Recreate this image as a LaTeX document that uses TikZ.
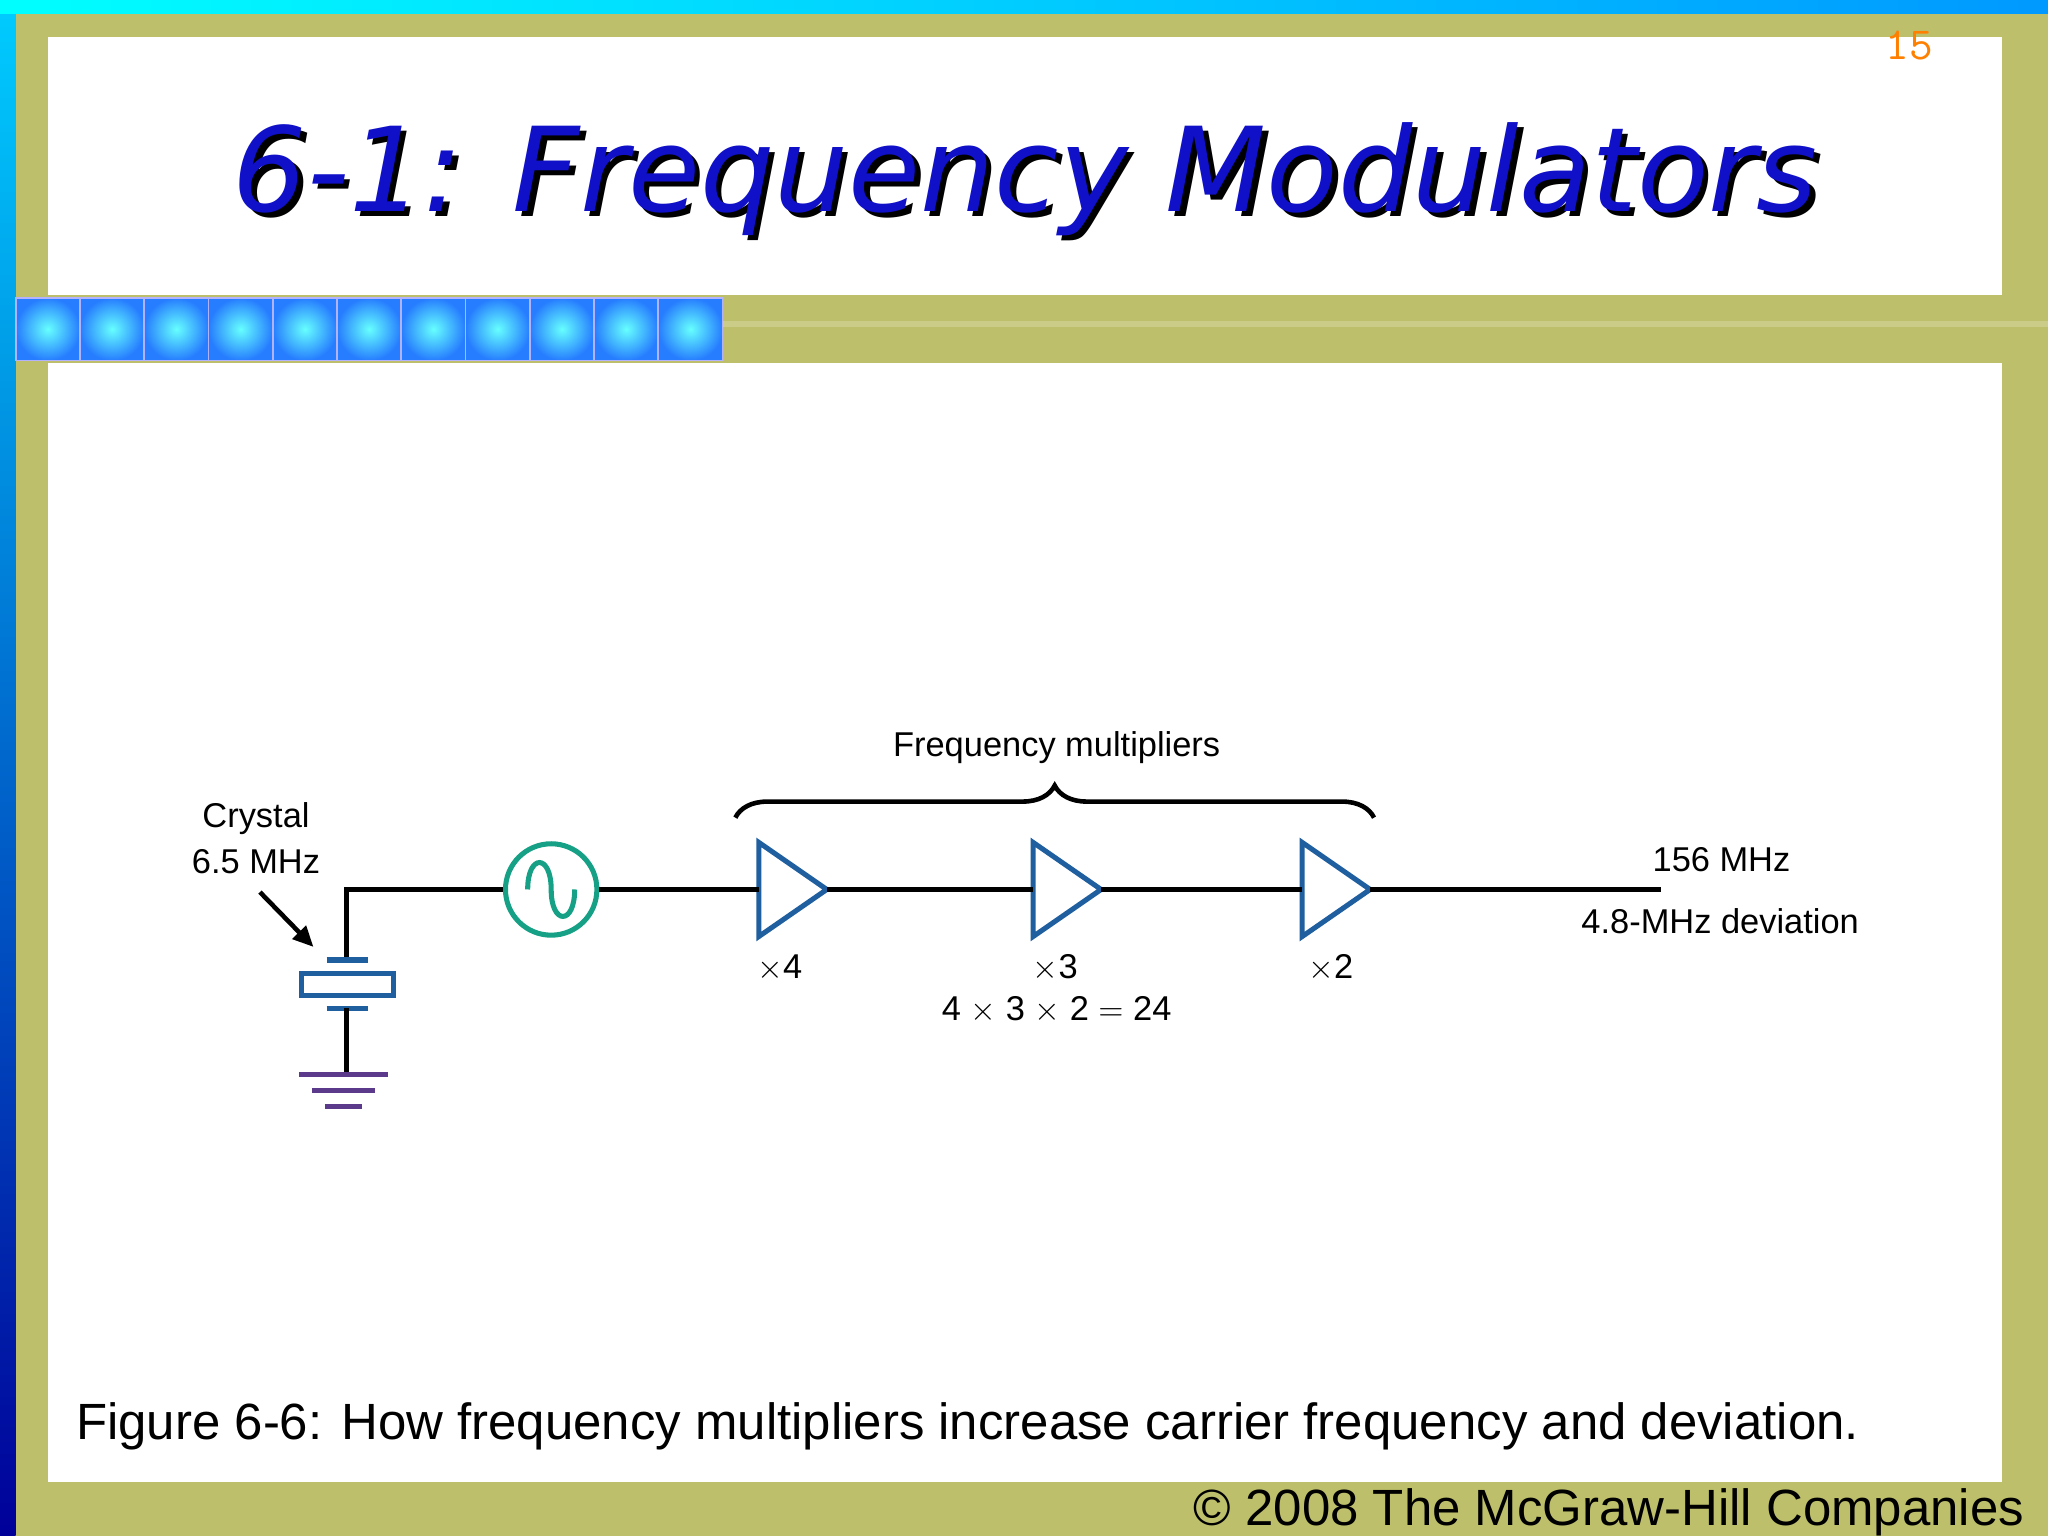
\documentclass[tikz,border=0pt]{standalone}
\usepackage{fontspec}
\setmainfont{Liberation Sans}
\newfontfamily\titlefont{DejaVu Sans}
\usetikzlibrary{decorations.pathreplacing,arrows.meta}
\definecolor{olive}{HTML}{BDBF6A}
\definecolor{tblue}{HTML}{1010C8}
\definecolor{cblue}{HTML}{1F5FA0}
\definecolor{teal}{HTML}{16A085}
\definecolor{gpurple}{HTML}{5B3A8C}
\tikzset{wire/.style={line width=2.2pt,black},
  amp/.style={line width=2.2pt,draw=cblue},
  lbl/.style={font=\fontsize{15}{17}\selectfont,inner sep=0pt}}
\begin{document}
\begin{tikzpicture}[x=0.02cm,y=-0.02cm]
\useasboundingbox (0,0) rectangle (1568,1176);
% background
\fill[olive] (0,0) rectangle (1568,1176);
\shade[top color=cyan!80!blue,bottom color=blue!60!black] (0,0) rectangle (12,1176);
\shade[left color=cyan,right color=cyan!60!blue] (0,0) rectangle (1568,10);
\fill[white] (37,28) rectangle (1533,226);
\fill[white] (37,278) rectangle (1533,1135);
\fill[olive!80!white] (553,246) rectangle (1568,250);
\foreach \i in {0,...,10}{
  \shade[inner color=cyan!60!white,outer color=blue!60!cyan!85!white,draw=white!70!blue,line width=0.8pt]
   (12+\i*49.2,228) rectangle (12+\i*49.2+49.2,276);}
% title
\node[font=\titlefont\itshape\fontsize{51}{60}\selectfont,text=black] at (789,141) {6-1: Frequency Modulators};
\node[font=\titlefont\itshape\fontsize{51}{60}\selectfont,text=tblue] (title) at (785,137) {6-1: Frequency Modulators};
\node[font=\ttfamily\fontsize{20}{22}\selectfont,text=orange] (pg) at (1462,35) {15};
% caption
\node[anchor=west,font=\fontsize{22.2}{25}\selectfont,inner sep=0pt] (cap) at (58,1092) {Figure 6-6: How frequency multipliers increase carrier frequency and deviation.};
\node[anchor=east,font=\fontsize{22.2}{25}\selectfont,inner sep=0pt] (copy) at (1550,1158) {\textcopyright{} 2008 The McGraw-Hill Companies};
% circuit coordinates
\coordinate (c0) at (265,681);
\coordinate (ctop) at (265,735);
\coordinate (cbot) at (265,772);
\coordinate (gnd) at (265,823);
\node[circle,draw=teal,line width=2.2pt,minimum size=1.4cm,inner sep=0pt] (osc) at (422,681) {};
\draw[teal,line width=2.2pt] ([xshift=-0.36cm]osc.center) .. controls ([xshift=-0.36cm,yshift=0.55cm]osc.center) and ([yshift=0.55cm]osc.center) .. (osc.center) .. controls ([yshift=-0.55cm]osc.center) and ([xshift=0.36cm,yshift=-0.55cm]osc.center) .. ([xshift=0.36cm]osc.center);
\foreach \n/\x in {a/581,b/791,c/997}{
  \coordinate (\n1) at (\x,681);
  \coordinate (\n2) at (\x+52,681);
  \draw[amp,line join=miter] (\x,645) -- (\x+52,681) -- (\x,717) -- cycle;}
\coordinate (outend) at (1272,681);
\draw[wire] (ctop) -- (c0) -- (osc.west);
\draw[wire] (osc.east) -- (a1);
\draw[wire] (a2) -- (b1);
\draw[wire] (b2) -- (c1);
\draw[wire] (c2) -- (outend);
% crystal
\draw[cblue,line width=2.2pt] (250,735) -- (282,735) (250,772) -- (282,772);
\draw[cblue,line width=2.2pt] (231,745) rectangle (301,762);
\draw[wire] (cbot) -- (gnd);
\draw[gpurple,line width=2.2pt] (229,823) -- (297,823) (239,835) -- (287,835) (249,847) -- (277,847);
% labels
\node[lbl,align=center] (cry) at (196,642) {Crystal\\[3pt]6.5 MHz};
\coordinate (ar1) at (199,683);
\coordinate (ar2) at (240,725);
\draw[line width=2pt,-{Triangle[length=9pt,width=8pt]}] (ar1) -- (ar2);
\node[lbl] (m4) at (597,741) {$\times$4};
\node[lbl] (m3) at (808,741) {$\times$3};
\node[lbl] (m2) at (1019,741) {$\times$2};
\node[lbl] (prod) at (809,773) {4 $\times$ 3 $\times$ 2 $=$ 24};
\node[lbl] (fm) at (809,572) {Frequency multipliers};
\node[lbl] (f156) at (1318,658) {156 MHz};
\node[lbl] (dev) at (1317,705) {4.8-MHz deviation};
\coordinate (br1) at (563,626);
\coordinate (br2) at (1052,626);
\draw[line width=2pt,decorate,decoration={brace,amplitude=14pt}] (br1) -- (br2);
\end{tikzpicture}
\end{document}
